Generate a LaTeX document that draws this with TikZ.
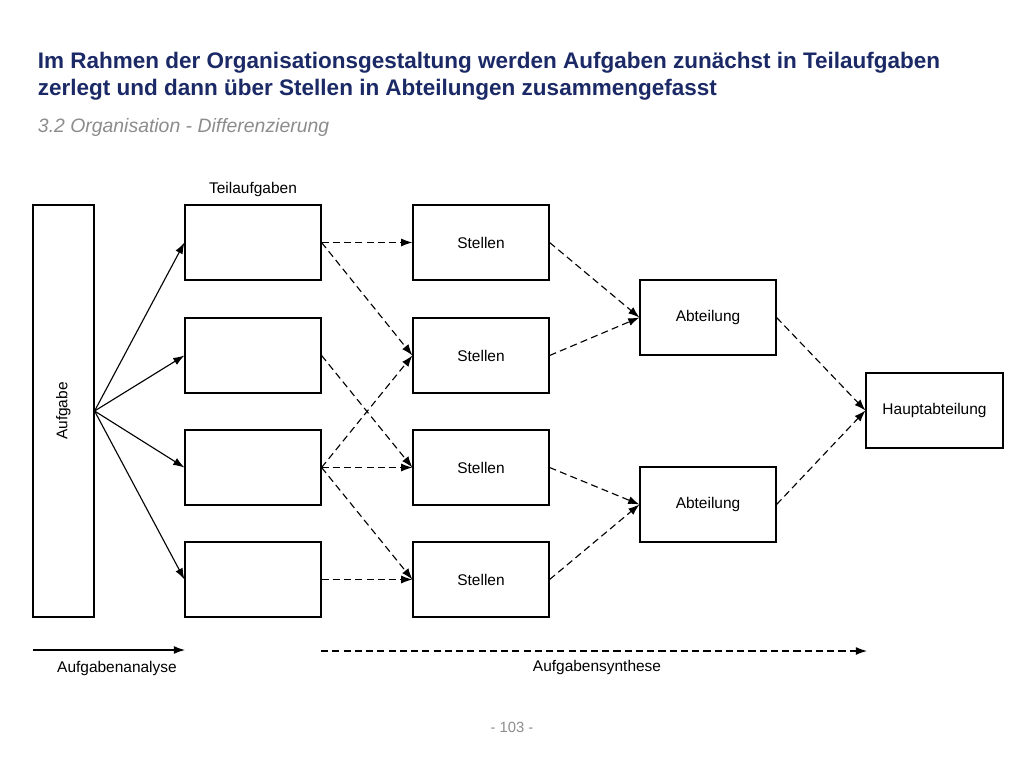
\documentclass[tikz,border=0pt]{standalone}
\usepackage{fontspec}
\setmainfont{Liberation Sans}
\usetikzlibrary{arrows.meta}
\definecolor{titleblue}{HTML}{1B2A66}
\definecolor{subgray}{HTML}{8C8C8C}
\tikzset{
  box/.style={draw, thick, minimum width=3.4cm, minimum height=1.875cm, inner sep=0pt, font=\fontsize{11}{12}\selectfont},
  solidarrow/.style={thick, -{Latex[length=2.8mm,width=2mm]}},
  dasharrow/.style={thick, dash pattern=on 5pt off 3pt, -{Latex[length=2.8mm,width=2mm]}},
  lbl/.style={font=\fontsize{11}{12}\selectfont}
}
\begin{document}
\begin{tikzpicture}[x=0.025cm, y=-0.025cm]
	\useasboundingbox (0,0) rectangle (1024,768);

	\node[anchor=west, text=titleblue, font=\bfseries\fontsize{16}{19}\selectfont] (t1) at (33,63) {Im Rahmen der Organisationsgestaltung werden Aufgaben zunächst in Teilaufgaben};
	\node[anchor=west, text=titleblue, font=\bfseries\fontsize{16}{19}\selectfont] (t2) at (33,90) {zerlegt und dann über Stellen in Abteilungen zusammengefasst};
	\node[anchor=west, text=subgray, font=\itshape\fontsize{13.8}{16}\selectfont] (sub) at (33,127) {3.2 Organisation - Differenzierung};

	\node[draw, thick, minimum width=1.525cm, minimum height=10.3cm, inner sep=0pt] (A) at (63.5,411) {};
	\node[lbl, rotate=90] at (A.center) {Aufgabe};

	\node[lbl] (tlab) at (253,190) {Teilaufgaben};
	\node[box] (T1) at (253,242.5) {};
	\node[box] (T2) at (253,355.5) {};
	\node[box] (T3) at (253,467.5) {};
	\node[box] (T4) at (253,579.5) {};

	\node[box] (S1) at (481,242.5) {Stellen};
	\node[box] (S2) at (481,355.5) {Stellen};
	\node[box] (S3) at (481,467.5) {Stellen};
	\node[box] (S4) at (481,579.5) {Stellen};

	\node[box] (B1) at (708,317.5) {Abteilung};
	\node[box] (B2) at (708,504.5) {Abteilung};
	\node[box, minimum width=3.425cm] (H) at (934.5,410.5) {Hauptabteilung};

	\draw[solidarrow] (A.east) -- (T1.west);
	\draw[solidarrow] (A.east) -- (T2.west);
	\draw[solidarrow] (A.east) -- (T3.west);
	\draw[solidarrow] (A.east) -- (T4.west);

	\draw[dasharrow] (T1.east) -- (S1.west);
	\draw[dasharrow] (T1.east) -- (S2.west);
	\draw[dasharrow] (T2.east) -- (S3.west);
	\draw[dasharrow] (T3.east) -- (S2.west);
	\draw[dasharrow] (T3.east) -- (S3.west);
	\draw[dasharrow] (T3.east) -- (S4.west);
	\draw[dasharrow] (T4.east) -- (S4.west);

	\draw[dasharrow] (S1.east) -- (B1.west);
	\draw[dasharrow] (S2.east) -- (B1.west);
	\draw[dasharrow] (S3.east) -- (B2.west);
	\draw[dasharrow] (S4.east) -- (B2.west);

	\draw[dasharrow] (B1.east) -- (H.west);
	\draw[dasharrow] (B2.east) -- (H.west);

	\coordinate (a1) at (33,650);
	\coordinate (a2) at (185,650);
	\coordinate (s1) at (321,651);
	\coordinate (s2) at (867,651);
	\draw[solidarrow] (a1) -- (a2);
	\draw[dasharrow] (s1) -- (s2);
	\node[lbl] (ana) at (117,668) {Aufgabenanalyse};
	\node[lbl] (syn) at (597,667) {Aufgabensynthese};

	\node[text=subgray, font=\fontsize{10.5}{12}\selectfont] (page) at (512,727) {- 103 -};
\end{tikzpicture}
\end{document}
